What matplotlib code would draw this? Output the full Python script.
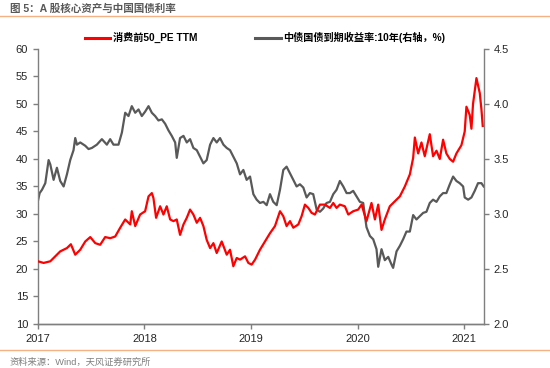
import matplotlib
matplotlib.use('Agg')
import matplotlib.pyplot as plt
from matplotlib.lines import Line2D

plt.rcParams['font.family'] = ['Liberation Sans', 'Noto Sans CJK SC', 'DejaVu Sans']

# 消费前50_PE TTM (decimal year, value)
pe_t = [2017.000, 2017.053, 2017.116, 2017.147, 2017.209, 2017.272, 2017.309, 2017.350, 2017.397,
        2017.444, 2017.491, 2017.538, 2017.584, 2017.631, 2017.678, 2017.725, 2017.772, 2017.819,
        2017.866, 2017.881, 2017.913, 2017.959, 2018.006, 2018.038, 2018.069, 2018.084, 2018.109,
        2018.147, 2018.178, 2018.209, 2018.241, 2018.272, 2018.303, 2018.334, 2018.366, 2018.397,
        2018.428, 2018.459, 2018.491, 2018.522, 2018.553, 2018.584, 2018.616, 2018.647, 2018.678,
        2018.725, 2018.772, 2018.803, 2018.834, 2018.866, 2018.897, 2018.944, 2018.975, 2019.006,
        2019.038, 2019.084, 2019.131, 2019.178, 2019.225, 2019.272, 2019.303, 2019.334, 2019.366,
        2019.397, 2019.444, 2019.475, 2019.506, 2019.538, 2019.569, 2019.600, 2019.647, 2019.694,
        2019.741, 2019.772, 2019.803, 2019.834, 2019.881, 2019.913, 2019.959, 2020.006, 2020.038,
        2020.084, 2020.131, 2020.163, 2020.194, 2020.225, 2020.256, 2020.303, 2020.350, 2020.397,
        2020.444, 2020.491, 2020.522, 2020.538, 2020.569, 2020.600, 2020.631, 2020.678, 2020.709,
        2020.741, 2020.772, 2020.803, 2020.834, 2020.866, 2020.897, 2020.928, 2020.975, 2021.006,
        2021.022, 2021.053, 2021.069, 2021.084, 2021.116, 2021.147, 2021.163, 2021.175]
pe_v = [21.4, 21.1, 21.4, 22.0, 23.2, 23.8, 24.5, 22.6, 23.5,
        25.0, 25.8, 24.7, 24.4, 25.8, 25.6, 25.9, 27.5, 29.0,
        28.1, 30.5, 27.8, 29.9, 30.5, 33.2, 33.8, 32.9, 29.3,
        31.4, 29.9, 31.4, 29.0, 28.7, 29.0, 26.2, 28.1, 29.3,
        30.8, 29.9, 28.4, 29.3, 27.8, 25.3, 23.8, 24.7, 22.9,
        25.0, 22.6, 23.5, 20.5, 22.0, 21.7, 22.3, 21.1, 20.8,
        21.7, 23.5, 25.0, 26.5, 27.8, 30.5, 29.6, 27.8, 28.7,
        27.5, 28.1, 29.6, 31.7, 31.1, 30.2, 29.9, 31.7, 31.7,
        31.1, 32.0, 31.1, 31.7, 31.4, 29.9, 30.5, 30.8, 31.7,
        28.7, 32.0, 29.0, 31.7, 27.1, 29.0, 31.4, 32.3, 33.2,
        35.0, 37.2, 40.2, 43.9, 41.0, 43.0, 40.5, 44.5, 40.5,
        41.5, 40.0, 43.5, 41.0, 40.0, 39.5, 41.0, 42.5, 45.0,
        49.5, 48.0, 45.5, 50.0, 54.7, 52.0, 49.0, 46.0]

# 中债国债到期收益率:10年 (decimal year, %)
yld_t = [2017.000, 2017.016, 2017.038, 2017.069, 2017.100, 2017.116, 2017.147, 2017.178, 2017.209,
         2017.241, 2017.272, 2017.303, 2017.334, 2017.350, 2017.366, 2017.397, 2017.444, 2017.475,
         2017.506, 2017.553, 2017.600, 2017.647, 2017.678, 2017.709, 2017.756, 2017.788, 2017.819,
         2017.850, 2017.881, 2017.913, 2017.944, 2017.975, 2018.006, 2018.038, 2018.069, 2018.100,
         2018.131, 2018.163, 2018.194, 2018.225, 2018.256, 2018.288, 2018.303, 2018.334, 2018.366,
         2018.397, 2018.428, 2018.459, 2018.491, 2018.522, 2018.553, 2018.584, 2018.616, 2018.647,
         2018.678, 2018.709, 2018.741, 2018.772, 2018.803, 2018.834, 2018.866, 2018.897, 2018.928,
         2018.959, 2018.991, 2019.022, 2019.053, 2019.084, 2019.116, 2019.147, 2019.178, 2019.209,
         2019.241, 2019.272, 2019.303, 2019.334, 2019.366, 2019.397, 2019.428, 2019.459, 2019.491,
         2019.522, 2019.553, 2019.584, 2019.616, 2019.647, 2019.678, 2019.709, 2019.741, 2019.772,
         2019.803, 2019.834, 2019.866, 2019.897, 2019.928, 2019.959, 2019.991, 2020.022, 2020.053,
         2020.084, 2020.116, 2020.147, 2020.178, 2020.194, 2020.225, 2020.256, 2020.288, 2020.319,
         2020.334, 2020.366, 2020.397, 2020.428, 2020.459, 2020.491, 2020.522, 2020.553, 2020.584,
         2020.616, 2020.647, 2020.678, 2020.709, 2020.741, 2020.772, 2020.803, 2020.834, 2020.866,
         2020.897, 2020.928, 2020.959, 2020.991, 2021.006, 2021.038, 2021.069, 2021.100, 2021.131,
         2021.163, 2021.184]
yld_v = [3.12, 3.19, 3.22, 3.28, 3.49, 3.45, 3.31, 3.42, 3.30,
         3.25, 3.36, 3.49, 3.58, 3.69, 3.63, 3.65, 3.62, 3.59,
         3.60, 3.63, 3.68, 3.63, 3.68, 3.63, 3.63, 3.74, 3.92,
         3.89, 3.98, 3.92, 3.95, 3.89, 3.93, 3.98, 3.92, 3.89,
         3.85, 3.86, 3.82, 3.76, 3.71, 3.65, 3.51, 3.69, 3.71,
         3.65, 3.68, 3.60, 3.58, 3.52, 3.46, 3.49, 3.63, 3.69,
         3.65, 3.69, 3.63, 3.60, 3.58, 3.52, 3.46, 3.36, 3.40,
         3.31, 3.34, 3.18, 3.13, 3.10, 3.11, 3.08, 3.18, 3.11,
         3.08, 3.22, 3.40, 3.43, 3.37, 3.31, 3.25, 3.27, 3.24,
         3.15, 3.19, 3.18, 3.04, 3.02, 3.05, 3.10, 3.11, 3.18,
         3.22, 3.30, 3.25, 3.19, 3.19, 3.21, 3.16, 3.11, 3.10,
         2.88, 2.80, 2.77, 2.68, 2.52, 2.68, 2.58, 2.61, 2.54,
         2.51, 2.66, 2.71, 2.77, 2.84, 2.84, 2.99, 2.95, 2.98,
         3.01, 3.02, 3.10, 3.13, 3.11, 3.16, 3.19, 3.19, 3.27,
         3.34, 3.30, 3.28, 3.25, 3.15, 3.13, 3.15, 3.21, 3.28,
         3.28, 3.25]

years = [2017, 2018, 2019, 2020, 2021]
left_ticks = [10, 15, 20, 25, 30, 35, 40, 45, 50, 55, 60]
right_ticks = [2.0, 2.5, 3.0, 3.5, 4.0, 4.5]

red = '#FF0000'
grey = '#595959'
axis_c = '#7F7F7F'
txt_c = '#262626'
orange = '#F4B183'

fig = plt.figure(figsize=(5.5, 3.68), dpi=100)
ax = fig.add_axes([0.069, 0.1196, 0.811, 0.7474])
ax2 = ax.twinx()

ax.plot(pe_t, pe_v, color=red, lw=1.6, zorder=3)
ax2.plot(yld_t, yld_v, color=grey, lw=1.6)
ax.set_zorder(ax2.get_zorder() + 1)
ax.patch.set_visible(False)

ax.set_xlim(2017, 2021.187)
ax.set_ylim(10, 60)
ax2.set_ylim(2.0, 4.5)
ax.set_xticks(years)
ax.set_xticklabels([str(y) for y in years])
ax.set_yticks(left_ticks)
ax2.set_yticks(right_ticks)
ax2.set_yticklabels([f'{v:.1f}' for v in right_ticks])

for a in (ax, ax2):
    for s in a.spines.values():
        s.set_color(axis_c)
        s.set_linewidth(1.0)
    a.spines['top'].set_visible(False)
    a.tick_params(colors=axis_c, labelcolor=txt_c, labelsize=8, length=3.5, width=1.0)
ax.spines['right'].set_visible(False)
ax2.spines['left'].set_visible(False)
ax.tick_params(axis='x', pad=4)

# legend
handles = [Line2D([], [], color=red, lw=2.2), Line2D([], [], color=grey, lw=2.2)]
fig.legend(handles, ['消费前50_PE TTM', '中债国债到期收益率:10年(右轴，%)'],
           loc='center', bbox_to_anchor=(0.482, 0.898), ncol=2, frameon=False,
           handlelength=2.5, handletextpad=0.3, columnspacing=5.7,
           prop={'weight': 'bold', 'size': 7.3})

# title and source
fig.text(0.018, 0.9755, '图 5：A 股核心资产与中国国债利率', fontsize=7.6, fontweight='bold',
         color='#595959', va='center', ha='left')
fig.add_artist(Line2D([0, 1], [0.957, 0.957], color=orange, lw=1.0, transform=fig.transFigure))
fig.add_artist(Line2D([0, 1], [0.049, 0.049], color=orange, lw=1.0, transform=fig.transFigure))
fig.text(0.017, 0.016, '资料来源：Wind，天风证券研究所', fontsize=6.7, color='#7F7F7F',
         va='center', ha='left')

fig.savefig('out.png', dpi=100)
